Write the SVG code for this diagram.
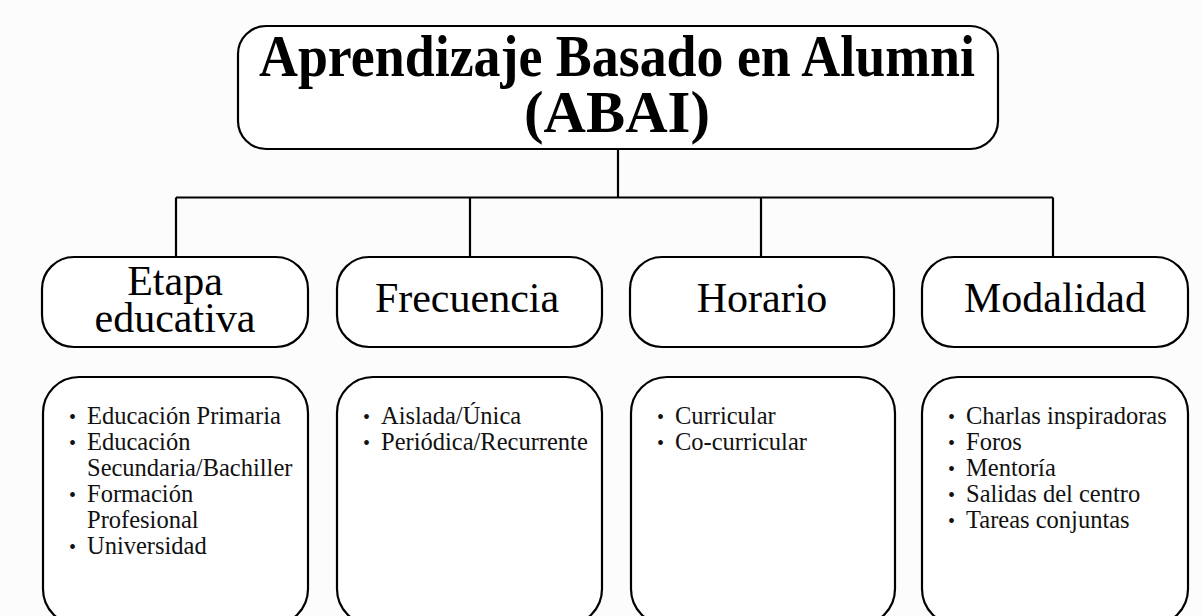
<svg xmlns="http://www.w3.org/2000/svg" width="1202" height="616" viewBox="0 0 1202 616">
<style>
.box{fill:#fff;stroke:#000;stroke-width:2.2}
.ln{fill:none;stroke:#000;stroke-width:2.2}
.title{font-family:"Liberation Serif","Times New Roman",serif;font-weight:bold;font-size:59px;text-anchor:middle;fill:#000}
.cat{font-family:"Liberation Serif","Times New Roman",serif;font-size:42px;text-anchor:middle;fill:#000}
.item{font-family:"Liberation Serif","Times New Roman",serif;font-size:24.5px;fill:#111}
.bul{font-family:"Liberation Serif","Times New Roman",serif;font-size:20px;fill:#111}
</style>
<rect width="1202" height="616" fill="#fcfcfc"/>
<g id="connectors">
<path class="ln" d="M618 149 V197.5 M176 197.5 H1053 M176 197.5 V257 M470 197.5 V257 M761 197.5 V257 M1053 197.5 V257"/>
</g>
<g id="root">
<rect class="box" x="238" y="26" width="760" height="123" rx="28"/>
<text class="title" x="617" y="76" textLength="716" lengthAdjust="spacingAndGlyphs">Aprendizaje Basado en Alumni</text>
<text class="title" x="617" y="132" textLength="186" lengthAdjust="spacingAndGlyphs">(ABAI)</text>
</g>
<g id="etapa">
<rect class="box" x="42" y="257" width="266" height="90" rx="32"/>
<text class="cat" x="175" y="295">Etapa</text>
<text class="cat" x="175" y="332">educativa</text>
</g>
<g id="frecuencia">
<rect class="box" x="337" y="257" width="265" height="90" rx="32"/>
<text class="cat" x="467" y="312">Frecuencia</text>
</g>
<g id="horario">
<rect class="box" x="630" y="257" width="264" height="90" rx="32"/>
<text class="cat" x="762" y="312">Horario</text>
</g>
<g id="modalidad">
<rect class="box" x="922" y="257" width="266" height="90" rx="32"/>
<text class="cat" x="1055" y="312">Modalidad</text>
</g>
<g id="etapa-items">
<rect class="box" x="43" y="377" width="265" height="248" rx="36"/>
<text class="bul" x="69" y="424">•</text><text class="item" x="87" y="424">Educación Primaria</text>
<text class="bul" x="69" y="450">•</text><text class="item" x="87" y="450">Educación</text>
<text class="item" x="87" y="476">Secundaria/Bachiller</text>
<text class="bul" x="69" y="502">•</text><text class="item" x="87" y="502">Formación</text>
<text class="item" x="87" y="528">Profesional</text>
<text class="bul" x="69" y="554">•</text><text class="item" x="87" y="554">Universidad</text>
</g>
<g id="frecuencia-items">
<rect class="box" x="337" y="377" width="265" height="248" rx="36"/>
<text class="bul" x="363" y="424">•</text><text class="item" x="381" y="424">Aislada/Única</text>
<text class="bul" x="363" y="450">•</text><text class="item" x="381" y="450">Periódica/Recurrente</text>
</g>
<g id="horario-items">
<rect class="box" x="631" y="377" width="264" height="248" rx="36"/>
<text class="bul" x="657" y="424">•</text><text class="item" x="675" y="424">Curricular</text>
<text class="bul" x="657" y="450">•</text><text class="item" x="675" y="450">Co-curricular</text>
</g>
<g id="modalidad-items">
<rect class="box" x="922" y="377" width="266" height="248" rx="36"/>
<text class="bul" x="948" y="424">•</text><text class="item" x="966" y="424">Charlas inspiradoras</text>
<text class="bul" x="948" y="450">•</text><text class="item" x="966" y="450">Foros</text>
<text class="bul" x="948" y="476">•</text><text class="item" x="966" y="476">Mentoría</text>
<text class="bul" x="948" y="502">•</text><text class="item" x="966" y="502">Salidas del centro</text>
<text class="bul" x="948" y="528">•</text><text class="item" x="966" y="528">Tareas conjuntas</text>
</g>
</svg>
